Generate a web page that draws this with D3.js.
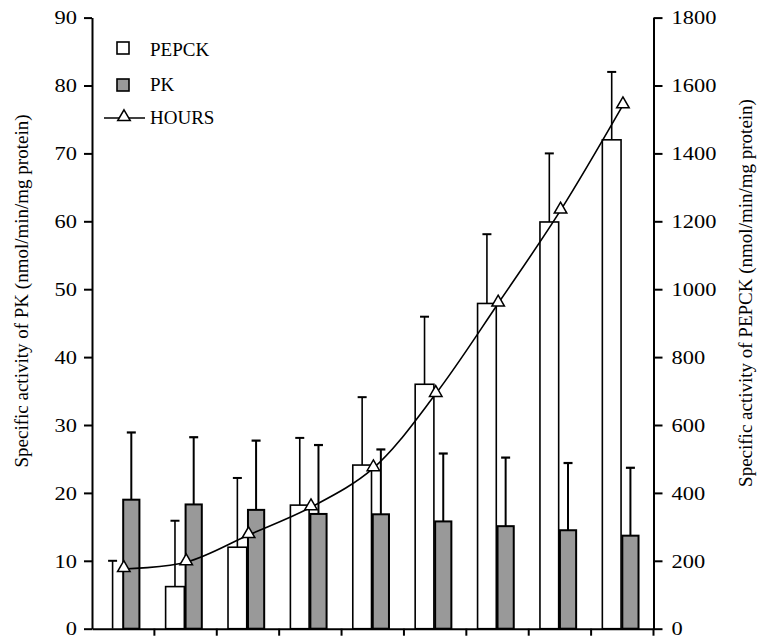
<!DOCTYPE html>
<html>
<head>
<meta charset="utf-8">
<script src="https://cdn.jsdelivr.net/npm/d3@7"></script>
<style>
  body { margin: 0; background: #fff; }
  svg { display: block; }
  text { font-family: 'Liberation Serif', 'Times New Roman', serif; fill: #000; }
</style>
</head>
<body>
<div id="viz"></div>
<script>
// sampling points (no labels on the x axis)
const categories = ['1', '2', '3', '4', '5', '6', '7', '8', '9'];

// PEPCK activity, right axis (nmol/min/mg protein)
const pepck = [0, 124, 240, 364, 482, 720, 958, 1198, 1440];
const pepckErr = [200, 194, 204, 198, 200, 199, 204, 202, 200];

// PK activity, left axis
const pk = [19.0, 18.3, 17.5, 16.9, 16.85, 15.8, 15.1, 14.5, 13.7];
const pkErr = [9.9, 9.9, 10.2, 10.15, 9.55, 10.0, 10.1, 9.9, 10.0];

// HOURS line, drawn on the right axis scale
const hours = [176, 196, 276, 358, 473, 692, 958, 1232, 1542];

const leftTicks = [0, 10, 20, 30, 40, 50, 60, 70, 80, 90];
const rightTicks = [0, 200, 400, 600, 800, 1000, 1200, 1400, 1600, 1800];

const legendItems = ['PEPCK', 'PK', 'HOURS'];

const width = 759;
const height = 640;
const serif = "'Liberation Serif', 'Times New Roman', serif";

const svg = d3.select('#viz')
  .append('svg')
  .attr('width', width)
  .attr('height', height);

const x = d3.scaleBand()
  .domain(categories)
  .range([92, 653.5])
  .padding(0);

const yL = d3.scaleLinear().domain([0, 90]).range([628.7, 17.6]);
const yR = d3.scaleLinear().domain([0, 1800]).range([628.7, 17.6]);

const bw = x.bandwidth();
const rows = categories.map((c, i) => ({
  c, pepck: pepck[i], pe: pepckErr[i], pk: pk[i], ke: pkErr[i], h: hours[i]
}));

// error bars go behind the bars
const errG = svg.append('g');

errG.selectAll('.pe-err')
  .data(rows)
  .enter()
  .append('line')
  .attr('x1', d => x(d.c) + bw * 0.33)
  .attr('x2', d => x(d.c) + bw * 0.33)
  .attr('y1', d => yR(d.pepck))
  .attr('y2', d => yR(d.pepck + d.pe))
  .attr('stroke', '#000')
  .attr('stroke-width', 1.6);

errG.selectAll('.pe-cap')
  .data(rows)
  .enter()
  .append('line')
  .attr('x1', d => x(d.c) + bw * 0.33 - 4.5)
  .attr('x2', d => x(d.c) + bw * 0.33 + 4.5)
  .attr('y1', d => yR(d.pepck + d.pe))
  .attr('y2', d => yR(d.pepck + d.pe))
  .attr('stroke', '#000')
  .attr('stroke-width', 2);

errG.selectAll('.pk-err')
  .data(rows)
  .enter()
  .append('line')
  .attr('x1', d => x(d.c) + bw * 0.63)
  .attr('x2', d => x(d.c) + bw * 0.63)
  .attr('y1', d => yL(d.pk))
  .attr('y2', d => yL(d.pk + d.ke))
  .attr('stroke', '#000')
  .attr('stroke-width', 2);

errG.selectAll('.pk-cap')
  .data(rows)
  .enter()
  .append('line')
  .attr('x1', d => x(d.c) + bw * 0.63 - 4.5)
  .attr('x2', d => x(d.c) + bw * 0.63 + 4.5)
  .attr('y1', d => yL(d.pk + d.ke))
  .attr('y2', d => yL(d.pk + d.ke))
  .attr('stroke', '#000')
  .attr('stroke-width', 2.2);

// PEPCK bars (white)
svg.selectAll('.pepck')
  .data(rows)
  .enter()
  .append('rect')
  .attr('x', d => x(d.c) + bw * 0.18)
  .attr('y', d => yR(d.pepck))
  .attr('width', bw * 0.3)
  .attr('height', d => yR(0) - yR(d.pepck))
  .attr('fill', '#fff')
  .attr('stroke', '#000')
  .attr('stroke-width', 1.6);

// PK bars (grey)
svg.selectAll('.pk')
  .data(rows)
  .enter()
  .append('rect')
  .attr('x', d => x(d.c) + bw * 0.5)
  .attr('y', d => yL(d.pk))
  .attr('width', bw * 0.26)
  .attr('height', d => yL(0) - yL(d.pk))
  .attr('fill', '#999')
  .attr('stroke', '#000')
  .attr('stroke-width', 2);

// HOURS curve
const line = d3.line()
  .x(d => x(d.c) + bw * 0.51)
  .y(d => yR(d.h))
  .curve(d3.curveCatmullRom.alpha(0.5));

svg.append('path')
  .datum(rows)
  .attr('d', line)
  .attr('fill', 'none')
  .attr('stroke', '#000')
  .attr('stroke-width', 1.6);

const tri = d3.symbol().type(d3.symbolTriangle).size(68);

svg.selectAll('.tri')
  .data(rows)
  .enter()
  .append('path')
  .attr('d', tri)
  .attr('transform', d => `translate(${x(d.c) + bw * 0.51},${yR(d.h) - 1})`)
  .attr('fill', '#fff')
  .attr('stroke', '#000')
  .attr('stroke-width', 1.5);

// axes; tick digits in the source are drawn a little wide
const styleAxis = (g) => {
  g.attr('font-family', serif).attr('font-size', 19.5);
  g.select('.domain').attr('stroke-width', 2);
  g.selectAll('.tick line').attr('stroke-width', 2);
  g.selectAll('.tick text').each(function () {
    const w = this.getComputedTextLength();
    d3.select(this).attr('textLength', w * 1.15).attr('lengthAdjust', 'spacingAndGlyphs');
  });
};

svg.append('g')
  .attr('transform', 'translate(92,0)')
  .call(d3.axisLeft(yL).tickValues(leftTicks).tickSize(8).tickSizeOuter(0).tickPadding(7))
  .call(styleAxis);

svg.append('g')
  .attr('transform', 'translate(653.5,0)')
  .call(d3.axisRight(yR).tickValues(rightTicks).tickFormat(d3.format('d'))
    .tickSize(9).tickSizeOuter(0).tickPadding(9))
  .call(styleAxis);

const xAxis = svg.append('g')
  .attr('transform', `translate(0,${yL(0)})`)
  .call(d3.axisBottom(x).tickSize(0).tickFormat(''));
xAxis.select('.domain').attr('stroke-width', 2);
xAxis.selectAll('.tick').remove();

// boundary ticks below the x axis
svg.selectAll('.xtick')
  .data(categories.slice(1))
  .enter()
  .append('line')
  .attr('x1', d => x(d))
  .attr('x2', d => x(d))
  .attr('y1', yL(0))
  .attr('y2', yL(0) + 7)
  .attr('stroke', '#000')
  .attr('stroke-width', 2);

svg.append('line')
  .attr('x1', 653.5).attr('x2', 653.5)
  .attr('y1', yL(0)).attr('y2', yL(0) + 7)
  .attr('stroke', '#000').attr('stroke-width', 2);

// axis titles
svg.append('text')
  .attr('transform', 'translate(28,291) rotate(-90)')
  .attr('text-anchor', 'middle')
  .style('font-size', '19px')
  .text('Specific activity of PK (nmol/min/mg protein)');

svg.append('text')
  .attr('transform', 'translate(752,293) rotate(-90)')
  .attr('text-anchor', 'middle')
  .style('font-size', '19px')
  .text('Specific activity of PEPCK (nmol/min/mg protein)');

// legend
const legend = svg.append('g');

legend.append('rect')
  .attr('x', 117).attr('y', 42).attr('width', 12).attr('height', 12)
  .attr('fill', '#fff').attr('stroke', '#000').attr('stroke-width', 1.6);

legend.append('rect')
  .attr('x', 117).attr('y', 79).attr('width', 12).attr('height', 12)
  .attr('fill', '#999').attr('stroke', '#000').attr('stroke-width', 1.6);

legend.append('line')
  .attr('x1', 104).attr('x2', 145).attr('y1', 118).attr('y2', 118)
  .attr('stroke', '#000').attr('stroke-width', 1.6);

legend.append('path')
  .attr('d', tri)
  .attr('transform', 'translate(124,117)')
  .attr('fill', '#fff').attr('stroke', '#000').attr('stroke-width', 1.5);

legend.selectAll('.label')
  .data(legendItems)
  .enter()
  .append('text')
  .attr('x', 150)
  .attr('y', (d, i) => [56, 91, 124][i])
  .style('font-size', '19px')
  .text(d => d);
</script>
</body>
</html>
